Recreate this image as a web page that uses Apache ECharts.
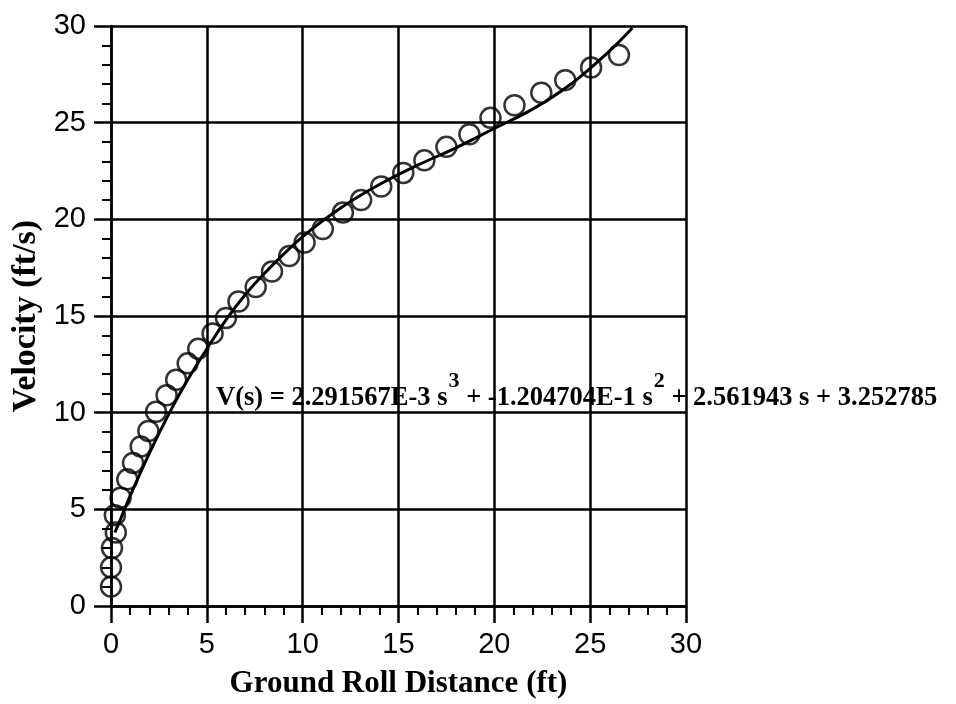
<!DOCTYPE html>
<html>
<head>
<meta charset="utf-8">
<script src="https://cdn.jsdelivr.net/npm/echarts@6/dist/echarts.min.js"></script>
<style>
html,body{margin:0;padding:0;background:#fff;}
#chart{width:956px;height:704px;}
</style>
</head>
<body>
<div id="chart"></div>
<script>
// Measured data points (ground roll distance s, velocity V)
var pointsS = [0, 0, 0.05, 0.25, 0.2, 0.5, 0.85, 1.15, 1.55, 1.95, 2.35, 2.9, 3.4, 4.0, 4.55, 5.3, 6.0, 6.65, 7.55, 8.4, 9.3, 10.1, 11.05, 12.1, 13.05, 14.1, 15.25, 16.35, 17.5, 18.7, 19.8, 21.05, 22.45, 23.7, 25.05, 26.5];
var pointsV = [1.0, 2.0, 3.0, 3.8, 4.7, 5.6, 6.55, 7.4, 8.25, 9.05, 10.05, 10.9, 11.7, 12.55, 13.3, 14.1, 14.9, 15.75, 16.5, 17.3, 18.1, 18.8, 19.5, 20.35, 21.0, 21.7, 22.4, 23.05, 23.75, 24.4, 25.25, 25.9, 26.55, 27.2, 27.85, 28.5];

// Fitted curve
var curveS = [0.2, 0.5, 1, 2, 3, 4, 5, 6, 7, 8, 10, 12, 14, 16, 18, 20, 22, 24, 26, 27.2];
var curveV = [3.8, 4.5, 5.7, 7.9, 9.9, 11.7, 13.3, 14.8, 16.1, 17.2, 19.1, 20.6, 21.8, 22.8, 23.7, 24.7, 25.7, 27.0, 28.7, 29.9];

var xTicks = [0, 5, 10, 15, 20, 25, 30];
var yTicks = [0, 5, 10, 15, 20, 25, 30];

var xTitle = 'Ground Roll Distance (ft)';
var yTitle = 'Velocity (ft/s)';
var eqParts = ['V(s) = 2.291567E-3 s', '3', ' + -1.204704E-1 s', '2', ' + 2.561943 s + 3.252785'];

var scatterData = pointsS.map(function (s, i) { return [s, pointsV[i]]; });
var curveData = curveS.map(function (s, i) { return [s, curveV[i]]; });

var serif = '"Liberation Serif", "DejaVu Serif", serif';
var sans = '"Liberation Sans", Arial, sans-serif';

function axisCommon(ticks) {
  return {
    type: 'value',
    min: ticks[0],
    max: ticks[ticks.length - 1],
    interval: ticks[1] - ticks[0],
    axisLine: { show: true, onZero: false, lineStyle: { color: '#000', width: 2.5 } },
    axisTick: { show: true, inside: false, length: 17, lineStyle: { color: '#000', width: 2.5 } },
    minorTick: { show: true, splitNumber: 5, length: 9, lineStyle: { color: '#000', width: 2 } },
    splitLine: { show: true, lineStyle: { color: '#000', width: 2.5 } },
    axisLabel: { color: '#000', fontFamily: sans, fontSize: 29 }
  };
}

var xAxis = axisCommon(xTicks);
xAxis.axisLabel.margin = 24;
xAxis.name = xTitle;
xAxis.nameLocation = 'middle';
xAxis.nameGap = 62;
xAxis.nameTextStyle = { color: '#000', fontFamily: serif, fontWeight: 'bold', fontSize: 31 };

var yAxis = axisCommon(yTicks);
yAxis.axisLabel.margin = 25;
yAxis.name = yTitle;
yAxis.nameLocation = 'middle';
yAxis.nameGap = 67;
yAxis.nameTextStyle = { color: '#000', fontFamily: serif, fontWeight: 'bold', fontSize: 34 };

var chart = echarts.init(document.getElementById('chart'), null, { renderer: 'canvas' });
chart.setOption({
  backgroundColor: '#fff',
  animation: false,
  title: {
    left: 216,
    top: 370,
    padding: 0,
    text: '{m|' + eqParts[0] + '}{s|' + eqParts[1] + '}{m|' + eqParts[2] + '}{s|' + eqParts[3] + '}{m|' + eqParts[4] + '}',
    textStyle: {
      rich: {
        m: { fontFamily: serif, fontWeight: 'bold', fontSize: 26.5, color: '#000', lineHeight: 42, verticalAlign: 'bottom' },
        s: { fontFamily: serif, fontWeight: 'bold', fontSize: 22, color: '#000', lineHeight: 23, verticalAlign: 'top', padding: [0, 0, 0, 1] }
      }
    }
  },
  grid: { left: 111, right: 270, top: 26, bottom: 97, containLabel: false },
  xAxis: xAxis,
  yAxis: yAxis,
  series: [
    {
      type: 'line',
      data: curveData,
      smooth: 0.35,
      showSymbol: false,
      lineStyle: { color: '#000', width: 3 },
      z: 3
    },
    {
      type: 'scatter',
      data: scatterData,
      symbol: 'circle',
      symbolSize: 20,
      itemStyle: { color: 'rgba(255,255,255,0)', borderColor: '#000', borderWidth: 2.5 },
      z: 4
    }
  ]
});
</script>
</body>
</html>
